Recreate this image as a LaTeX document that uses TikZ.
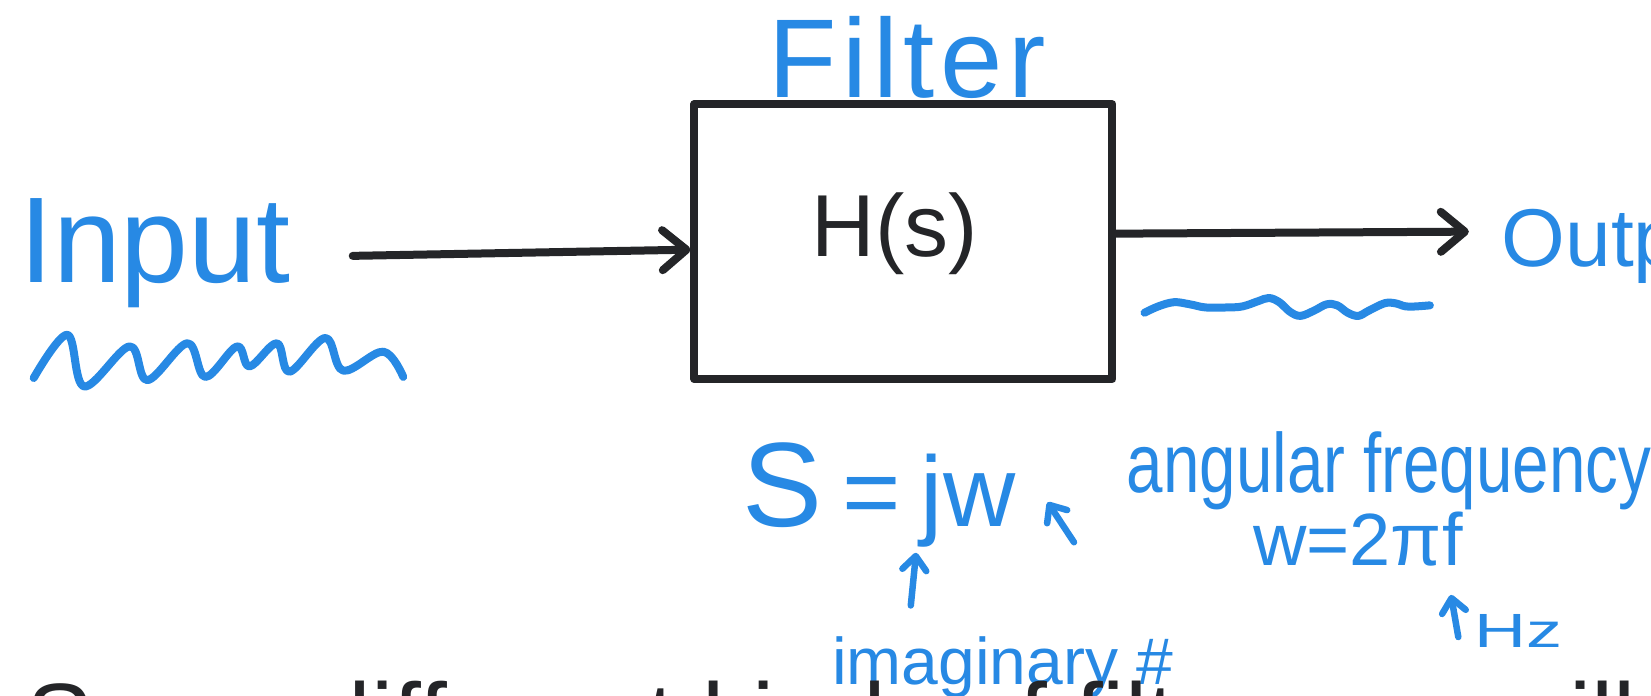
\documentclass[tikz,border=0pt]{standalone}
\usepackage{fontspec}
\usepackage{graphicx}
\setmainfont{Liberation Sans}
\usetikzlibrary{arrows.meta}
\definecolor{inkblue}{RGB}{39,137,228}
\definecolor{inkblack}{RGB}{36,37,40}
\begin{document}
\begin{tikzpicture}[x=1.053pt,y=-1.053pt,
  blk/.style={draw=inkblack, line width=8pt, line cap=round, line join=round},
  blu/.style={draw=inkblue, line width=8pt, line cap=round, line join=round},
  bigarrow/.style={blk, -{Straight Barb[length=24pt,width=40pt,round]}},
  smallarrow/.style={blu, line width=6.5pt, -{Straight Barb[length=14pt,width=24pt,round]}},
  btxt/.style={text=inkblue, inner sep=0pt, anchor=base west},
  ktxt/.style={text=inkblack, inner sep=0pt},
  fbox/.style={blk, minimum width=418pt, minimum height=275pt, inner sep=0pt}]
\useasboundingbox (0,0) rectangle (1568,661);
\fill[white] (0,0) rectangle (1568,661);
\clip (0,0) rectangle (1568,661);

% filter box
\node[fbox] (box) at (858,229.5) {};
\node[ktxt, font=\fontsize{88}{88}\selectfont] (hs) at (850,222) {H(s)};
\node[btxt, font=\fontsize{112}{112}\selectfont\addfontfeature{LetterSpace=5}] (filter) at (730,93) {Filter};

% input / output
\node[btxt, font=\fontsize{122}{122}\selectfont] (input) at (18,268) {Input};
\node[btxt, font=\fontsize{82}{82}\selectfont] (output) at (1426,253) {Output};
\coordinate (inStart) at (335,243);
\coordinate (outEnd) at (1395,220);
\draw[bigarrow] (inStart) -- ([yshift=-8pt]box.west);
\draw[bigarrow] ([yshift=8pt]box.east) -- (outEnd);

% waves
\draw[blu] plot[smooth, tension=0.6] coordinates {(32,359) (64,318) (80,367) (123,329) (140,361) (178,326) (195,358) (225,329) (237,348) (263,326) (275,353) (309,321) (326,352) (364,334) (383,358)};
\draw[blu] plot[smooth, tension=0.6] coordinates {(1087,297) (1100,291) (1115,287) (1130,289) (1145,292) (1165,292) (1180,291) (1195,286) (1205,283) (1215,287) (1225,296) (1235,300) (1248,295) (1260,289) (1270,290) (1280,297) (1290,300) (1300,295) (1315,288) (1325,288) (1335,291) (1345,291) (1358,290)};

% annotations
\node[btxt, font=\fontsize{100}{100}\selectfont] (sjw) at (705,500) {\spaceskip=0.2em{\fontsize{120}{120}\selectfont S} = jw};
\node[btxt, font=\fontsize{84}{84}\selectfont] (ang) at (1070,468) {\scalebox{0.78}[1]{angular frequency}};
\node[btxt, font=\fontsize{74}{74}\selectfont] (wf) at (1190,537) {w=2πf};
\node[btxt, font=\fontsize{48}{48}\selectfont] (hz) at (1400,615) {\scalebox{1.5}[1]{Hz}};
\node[btxt, font=\fontsize{66}{66}\selectfont] (imag) at (790,650) {imaginary \#};

\coordinate (jTail) at (865,575);
\coordinate (jTip) at (870,525);
\coordinate (wTail) at (1020,515);
\coordinate (wTip) at (995,477);
\coordinate (hzTail) at (1385,605);
\coordinate (hzTip) at (1378,565);
\draw[smallarrow] (jTail) -- (jTip);
\draw[smallarrow] (wTail) -- (wTip);
\draw[smallarrow] (hzTail) -- (hzTip);

% cut-off bottom line
\node[ktxt, anchor=base west, font=\fontsize{100}{100}\selectfont] (bottom) at (25,716) {Some different kinds of filters we will look at};
\end{tikzpicture}
\end{document}
